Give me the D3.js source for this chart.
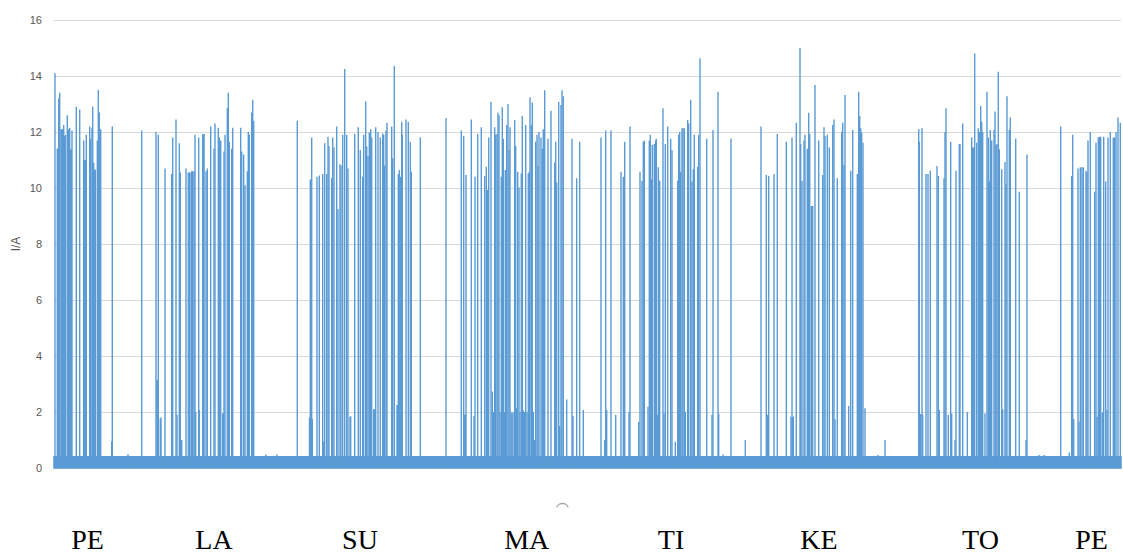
<!DOCTYPE html>
<html>
<head>
<meta charset="utf-8">
<script src="https://cdn.jsdelivr.net/npm/d3@7"></script>
<style>
  html, body { margin: 0; padding: 0; background: #fff; }
  svg { display: block; }
</style>
</head>
<body>
<svg id="chart" width="1123" height="555"></svg>
<script>
// Current draw over one week, sampled on a common index (~9.5 min per sample).
const sampleCount = 1067;

// Idle current band: the meter toggles between these two levels between loads.
const idleLevels = [0, 0.4];

// Load events: [sample index, current in A]
const pulses = [
  // PE
  [1, 14.1], [3.3, 11.4], [4, 11.4], [4.7, 13.2], [5.7, 13.4], [7, 12.1], [7.7, 12.1], [8.7, 12.1],
  [9.7, 12.25], [10.7, 11.85], [11.5, 11.9], [13.3, 12.6], [14.3, 12.1], [15.7, 12.15], [16.7, 11.35],
  [17.3, 11.4], [18, 12.05], [22.3, 12.9], [25.7, 12.8], [29.7, 11.7], [30.7, 11.0], [31.5, 11.0],
  [32.3, 11.9], [35.7, 12.2], [36.7, 11.75], [38, 12.15], [38.7, 12.9], [39.7, 10.9], [40.7, 10.65],
  [41.3, 10.65], [43.3, 11.7], [44.3, 13.5], [45.3, 12.7], [46.7, 12.1], [57.7, 0.95], [58.3, 12.2],
  [74, 0.5], [87.7, 12.05],
  // LA
  [102, 12.0], [103, 3.15], [103.5, 3.1], [104.3, 11.9], [106.3, 1.77], [107, 1.8], [111, 10.7],
  [117.7, 10.5], [118.7, 11.8], [122, 12.45], [123, 1.9], [125.3, 11.6], [126.3, 10.55], [127.7, 1.0],
  [132, 10.7], [134.3, 10.55], [135.3, 10.55], [136, 10.55], [137.7, 10.6], [138.7, 10.6], [140, 10.6],
  [141, 11.9], [141.7, 2.0], [144.7, 11.8], [145.3, 2.07], [148.7, 11.93], [149.5, 11.93], [150, 11.93],
  [152, 10.6], [153.3, 10.7], [156.7, 12.2], [160, 11.4], [161, 12.3], [164.3, 12.15], [165.3, 11.8],
  [166.7, 11.7], [168.7, 1.95], [169.3, 1.95], [170, 11.3], [171, 11.9], [173.3, 12.85], [174.3, 13.4],
  [175.3, 11.65], [177.7, 11.4], [178.7, 12.15], [186.7, 12.15], [187.7, 11.3], [189.7, 11.2], [191, 10.1],
  [193.3, 10.6], [194.3, 12.0], [195.3, 11.9], [197.7, 12.7], [198.7, 13.15], [199.7, 12.4],
  [212, 0.48], [223, 0.48], [243.3, 12.4],
  // SU
  [255.5, 1.8], [256, 1.8], [256.3, 10.3], [257, 1.8], [257.7, 11.8], [258.3, 1.75], [263, 10.4],
  [265.3, 10.45], [268.7, 10.5], [269.7, 0.95], [270.7, 11.6], [272.7, 10.5], [274, 11.83], [275, 11.5],
  [277.7, 10.35], [278.7, 11.8], [280, 11.45], [282.7, 12.2], [284, 9.25], [286, 10.85], [287, 10.8],
  [288.7, 11.9], [290.7, 14.25], [292.7, 11.9], [294, 10.7], [296, 1.83], [296.7, 1.85], [300.7, 11.93],
  [304.3, 12.17], [306.3, 11.36], [308.7, 10.4], [309.7, 11.9], [311.7, 13.1], [312.7, 11.48], [314, 11.14],
  [315.3, 11.98], [316.7, 12.1], [317.7, 11.8], [319.7, 2.1], [320.3, 2.1], [321.7, 12.17], [324, 12.0],
  [326.3, 11.8], [328.7, 11.95], [329.7, 11.9], [330.7, 10.8], [332, 12.05], [333, 12.33], [337.7, 12.2],
  [338.7, 11.06], [340.3, 14.36], [343, 2.25], [343.7, 2.25], [344.3, 10.5], [345.3, 10.64], [346.3, 10.4],
  [347.7, 12.37], [348.3, 11.9], [352, 12.45], [354.3, 12.37], [356.3, 11.65], [357.3, 10.58], [366.3, 11.8],
  [392, 12.5],
  // MA
  [407.3, 12.05], [409.7, 11.86], [410.7, 1.9], [411.3, 1.9], [412, 10.46], [417.3, 12.45], [420, 1.86],
  [421, 10.4], [423.7, 11.93], [427.3, 12.17], [430.7, 10.43], [432.3, 10.76], [433.7, 9.93], [434.7, 11.8],
  [437, 13.08], [438.3, 2.73], [439.7, 2.0], [440.7, 12.17], [441.7, 11.9], [443, 11.93], [444, 12.69],
  [445, 12.6], [446, 2.0], [447.3, 10.4], [448.3, 12.88], [449.3, 11.76], [450.3, 2.0], [451.3, 10.64],
  [452.7, 12.25], [454, 13.0], [455, 11.36], [456, 12.17], [457, 2.0], [458, 1.93], [459, 2.0],
  [460.7, 12.43], [461.7, 11.5], [462.7, 2.13], [463.7, 10.58], [465, 10.02], [466, 2.0], [467.3, 10.52],
  [468.3, 12.57], [469.3, 2.05], [470.3, 2.0], [471.7, 12.25], [473, 2.0], [474.3, 10.52], [475.3, 10.58],
  [476, 13.24], [477.3, 12.25], [478.3, 13.05], [479.3, 2.0], [480.7, 1.0], [481.7, 11.65], [483, 11.9],
  [484, 10.79], [485, 12.0], [487, 11.8], [488.3, 11.4], [489.3, 12.1], [490.7, 13.49], [494, 11.76],
  [497, 12.76], [500.7, 10.9], [501.7, 11.65], [502.7, 10.2], [504.7, 13.08], [505.7, 1.5], [507, 12.96],
  [508, 13.49], [509.3, 13.28], [512.7, 2.45], [518, 11.76], [519, 1.86], [522.7, 10.35], [525.7, 11.65],
  [529.3, 2.07],
  // TI
  [547, 11.8], [550.7, 1.0], [551.7, 12.05], [552.7, 2.07], [557, 12.05], [561.7, 1.9], [567, 10.58],
  [569.3, 10.4], [570.7, 11.65], [575, 2.0], [576, 12.2], [584.7, 1.65], [586, 10.58], [588, 10.26],
  [589.3, 11.65], [590.3, 11.7], [594, 2.19], [595.3, 11.7], [596.3, 11.9], [597.3, 10.3], [598.3, 11.54],
  [600.3, 11.57], [601.7, 11.7], [602.3, 11.76], [603.3, 1.9], [604.3, 10.74], [605.7, 10.26], [609, 12.85],
  [610, 1.95], [611.3, 11.57], [613.7, 12.2], [616.7, 11.76], [618, 11.36], [621.3, 0.94], [623.7, 10.26],
  [624.7, 11.9], [625.7, 12.0], [626.7, 10.58], [628, 12.13], [629, 12.13], [630.3, 12.13], [631.3, 2.0],
  [633.7, 12.43], [634.7, 12.3], [636.7, 13.14], [638, 10.23], [639.3, 10.67], [640.3, 11.9], [643.7, 10.76],
  [644.7, 11.9], [646, 14.63], [652.7, 11.76], [658, 1.9], [659, 12.07], [664, 13.44], [664.7, 1.95],
  [669, 0.48], [677, 11.77], [691.3, 1.0],
  // KE
  [707, 12.2], [712.3, 10.46], [713.3, 1.9], [714.7, 10.43], [720, 10.5], [723.3, 11.93], [732.3, 11.65],
  [737, 1.83], [738, 11.8], [738.7, 1.83], [739.3, 1.83], [742.3, 12.33], [746, 15.0], [746.7, 11.57],
  [748, 10.26], [750, 11.7], [751, 11.9], [753.3, 11.4], [754.7, 12.69], [755.7, 11.93], [757.3, 9.36],
  [758, 9.36], [758.7, 9.36], [761, 13.68], [764.7, 11.7], [768.7, 10.46], [770, 12.17], [771, 11.86],
  [773.3, 11.9], [775.3, 11.45], [778.7, 12.25], [780, 12.45], [781, 1.74], [783.3, 10.35], [787.7, 12.0],
  [788.7, 12.33], [790, 10.82], [791, 13.32], [794.7, 2.21], [796.7, 10.62], [798.7, 12.07], [803.3, 10.5],
  [804.7, 13.44], [805.7, 12.57], [806.7, 12.13], [807.7, 11.98], [809, 11.62], [811, 2.13], [824, 0.46],
  [831, 1.0],
  // TO
  [864.7, 12.1], [865.3, 11.65], [866.7, 1.93], [868, 12.13], [868.7, 1.9], [872, 10.5], [874, 10.5],
  [876.3, 10.62], [883, 10.79], [884.3, 10.43], [885.3, 2.07], [890, 10.35], [891, 12.0], [892, 12.85],
  [894.3, 1.9], [896.7, 11.65], [897.7, 1.95], [901, 1.0], [902, 10.62], [905.3, 11.57], [906, 11.57],
  [908.7, 12.3], [913.3, 2.0], [917.7, 11.8], [918.7, 11.45], [919.7, 11.45], [920.7, 14.8], [922.7, 11.62],
  [924.3, 12.13], [925.3, 12.0], [926.7, 12.93], [927.7, 12.37], [928.7, 12.0], [931, 1.95], [933, 13.44],
  [934.3, 11.8], [935.3, 10.23], [936.3, 12.07], [937.7, 11.7], [940, 12.07], [941, 12.73], [942, 11.54],
  [943, 11.57], [944.3, 14.15], [945.3, 11.38], [947.7, 10.67], [948.7, 2.1], [951, 10.93], [952, 10.14],
  [953, 13.28], [955.3, 12.07], [956.3, 12.52], [961.7, 11.77], [965.3, 9.87], [972, 1.0], [973, 11.2],
  [985, 0.46], [990.3, 0.46],
  // PE
  [1006.7, 12.2], [1015.3, 0.55], [1017.7, 10.43], [1018.7, 11.9], [1019.7, 1.74], [1024, 10.7],
  [1025, 1.65], [1026.3, 10.74], [1028, 10.74], [1029.3, 10.74], [1032, 10.62], [1033, 10.55], [1034, 11.7],
  [1036.3, 12.0], [1040.7, 9.87], [1042, 11.62], [1043, 1.83], [1044.3, 11.8], [1045.3, 11.83],
  [1046.7, 11.83], [1048.3, 1.98], [1049.7, 11.83], [1051.7, 10.23], [1053, 2.07], [1054, 11.8],
  [1056.3, 12.0], [1059.3, 11.8], [1060.7, 11.8], [1062, 12.0], [1064, 12.52], [1066.3, 12.33]
];

// Y-axis ticks (A)
const yTicks = [0, 2, 4, 6, 8, 10, 12, 14, 16];

// Weekday names and the sample index each one is written under
const dayNames = ["PE", "LA", "SU", "MA", "TI", "KE", "TO", "PE"];
const dayAt = [33.5, 160, 306, 472.7, 617, 765, 926.5, 1037.5];

const svg = d3.select("#chart");
const blue = "#5B9BD5";

const x = d3.scaleLinear().domain([0, sampleCount]).range([54, 1121]);
const y = d3.scaleLinear().domain([0, 16]).range([468, 20]);

// Horizontal gridlines
svg.append("g")
  .selectAll("line")
  .data(yTicks)
  .join("line")
  .attr("x1", x(0)).attr("x2", x(sampleCount))
  .attr("y1", d => y(d) + 0.5).attr("y2", d => y(d) + 0.5)
  .attr("stroke", "#d9d9d9").attr("stroke-width", 1);

// Y axis labels
const yAxis = svg.append("g")
  .attr("transform", `translate(${x(0)},0)`)
  .call(d3.axisLeft(y).tickValues(yTicks).tickSize(0).tickPadding(12).tickFormat(d3.format("d")));
yAxis.select(".domain").remove();
yAxis.selectAll("text")
  .attr("fill", "#595959")
  .style("font-family", "'Liberation Sans', Arial, sans-serif")
  .style("font-size", "11px");

// Axis title
svg.append("text")
  .attr("transform", `translate(20,${y(8)}) rotate(-90)`)
  .attr("text-anchor", "middle")
  .attr("fill", "#595959")
  .style("font-family", "'Liberation Sans', Arial, sans-serif")
  .style("font-size", "12px")
  .text("I/A");

// Idle band
const band = d3.area()
  .x(d => x(d))
  .y0(y(idleLevels[0]))
  .y1(y(idleLevels[1]));
svg.append("path")
  .datum([0, sampleCount])
  .attr("d", band)
  .attr("fill", blue)
  .attr("stroke", blue)
  .attr("stroke-width", 1.5);

// Load pulses
svg.append("g")
  .selectAll("line")
  .data(pulses)
  .join("line")
  .attr("x1", d => x(d[0])).attr("x2", d => x(d[0]))
  .attr("y1", y(idleLevels[0]))
  .attr("y2", d => y(d[1]))
  .attr("stroke", blue)
  .attr("stroke-width", 1.4);

// Partly hidden axis caption mark under the plot
svg.append("path")
  .attr("d", "M557,507.5 A5.5,4 0 0 1 568,507.5")
  .attr("fill", "none")
  .attr("stroke", "#a6a6a6")
  .attr("stroke-width", 1.3);

// Weekday labels
svg.append("g")
  .selectAll("text")
  .data(dayNames)
  .join("text")
  .attr("x", (d, i) => x(dayAt[i]))
  .attr("y", 549)
  .attr("text-anchor", "middle")
  .attr("fill", "#000")
  .style("font-family", "'Liberation Serif', 'Times New Roman', serif")
  .style("font-size", "28px")
  .text(d => d);
</script>
</body>
</html>
